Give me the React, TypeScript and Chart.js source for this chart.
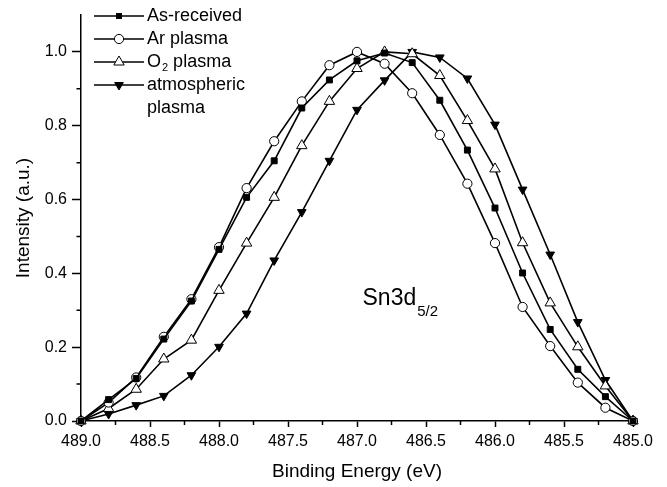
import React, { useEffect, useRef } from 'react';
import { Chart, registerables } from 'chart.js';

Chart.register(...registerables);

const FONT = '"Liberation Sans", Arial, Helvetica, sans-serif';

// Binding energy (eV), 0.2 eV steps from 489.0 down to 485.0
const energies = [489.0, 488.8, 488.6, 488.4, 488.2, 488.0, 487.8, 487.6, 487.4, 487.2, 487.0,
  486.8, 486.6, 486.4, 486.2, 486.0, 485.8, 485.6, 485.4, 485.2, 485.0];

const asReceived = [0, 0.058, 0.115, 0.222, 0.325, 0.465, 0.606, 0.705, 0.848, 0.924, 0.976,
  0.997, 0.971, 0.869, 0.734, 0.577, 0.401, 0.248, 0.140, 0.066, 0];
const arPlasma = [0, 0.050, 0.118, 0.228, 0.330, 0.471, 0.631, 0.758, 0.866, 0.964, 1.0,
  0.968, 0.888, 0.775, 0.643, 0.482, 0.309, 0.203, 0.104, 0.036, 0];
const o2Plasma = [0, 0.034, 0.086, 0.168, 0.219, 0.354, 0.482, 0.606, 0.746, 0.866, 0.955,
  1.0, 0.995, 0.936, 0.814, 0.683, 0.483, 0.320, 0.201, 0.095, 0];
const atmPlasma = [0, 0.019, 0.043, 0.068, 0.124, 0.201, 0.291, 0.435, 0.566, 0.705, 0.843,
  0.923, 1.0, 0.985, 0.928, 0.803, 0.627, 0.451, 0.268, 0.111, 0];

const seriesNames = ['As-received', 'Ar plasma', 'O2 plasma', 'atmospheric plasma'];
const seriesValues = [asReceived, arPlasma, o2Plasma, atmPlasma];

const xMajorStep = 0.5;
const yMajorStep = 0.2;
const xMinorTicks = [488.75, 488.25, 487.75, 487.25, 486.75, 486.25, 485.75, 485.25];
const yMinorTicks = [0.1, 0.3, 0.5, 0.7, 0.9];
const annotationMain = 'Sn3d';
const annotationSub = '5/2';
const annotationAt = { x: 486.96, y: 0.332 };

type MarkerKind = 'square' | 'circle' | 'triangle' | 'invTriangle';
const markerKinds: MarkerKind[] = ['square', 'circle', 'triangle', 'invTriangle'];
const markerRadius = [4.2, 4.6, 6, 5];

function drawMarker(ctx: CanvasRenderingContext2D, kind: MarkerKind, x: number, y: number, r: number) {
  ctx.save();
  ctx.lineWidth = 1;
  ctx.strokeStyle = '#000';
  ctx.beginPath();
  if (kind === 'square') {
    const s = r * Math.SQRT1_2;
    ctx.rect(x - s, y - s, 2 * s, 2 * s);
    ctx.fillStyle = '#000';
    ctx.fill();
  } else if (kind === 'circle') {
    ctx.arc(x, y, r, 0, Math.PI * 2);
    ctx.fillStyle = '#fff';
    ctx.fill();
    ctx.stroke();
  } else {
    let rad = kind === 'triangle' ? 0 : Math.PI;
    ctx.moveTo(x + Math.sin(rad) * r, y - Math.cos(rad) * r);
    rad += (2 * Math.PI) / 3;
    ctx.lineTo(x + Math.sin(rad) * r, y - Math.cos(rad) * r);
    rad += (2 * Math.PI) / 3;
    ctx.lineTo(x + Math.sin(rad) * r, y - Math.cos(rad) * r);
    ctx.closePath();
    ctx.fillStyle = kind === 'triangle' ? '#fff' : '#000';
    ctx.fill();
    ctx.stroke();
  }
  ctx.restore();
}

const decorPlugin = {
  id: 'decor',
  afterDraw(chart: any) {
    const ctx: CanvasRenderingContext2D = chart.ctx;
    const xs = chart.scales.x;
    const ys = chart.scales.y;
    const area = chart.chartArea;
    ctx.save();
    // minor ticks
    ctx.strokeStyle = '#000';
    ctx.lineWidth = 1.5;
    ctx.beginPath();
    for (const v of yMinorTicks) {
      const py = ys.getPixelForValue(v);
      ctx.moveTo(area.left, py);
      ctx.lineTo(area.left - 4.5, py);
    }
    for (const v of xMinorTicks) {
      const px = xs.getPixelForValue(v);
      ctx.moveTo(px, area.bottom);
      ctx.lineTo(px, area.bottom + 4);
    }
    ctx.stroke();

    // legend
    const lx0 = 94, lx1 = 144, mx = 119, tx = 147;
    const rows = [16, 39, 62, 85];
    ctx.fillStyle = '#000';
    ctx.textBaseline = 'middle';
    ctx.textAlign = 'left';
    for (let i = 0; i < seriesNames.length; i++) {
      const y = rows[i];
      ctx.beginPath();
      ctx.lineWidth = 1.5;
      ctx.moveTo(lx0, y);
      ctx.lineTo(lx1, y);
      ctx.stroke();
      drawMarker(ctx, markerKinds[i], mx, y, markerRadius[i]);
      ctx.fillStyle = '#000';
      ctx.font = `18px ${FONT}`;
      const name = seriesNames[i];
      if (name === 'O2 plasma') {
        ctx.fillText('O', tx, y);
        const w = ctx.measureText('O').width;
        ctx.font = `11px ${FONT}`;
        ctx.fillText('2', tx + w + 1, y + 6);
        const w2 = ctx.measureText('2').width;
        ctx.font = `18px ${FONT}`;
        ctx.fillText(' plasma', tx + w + w2 + 1, y);
      } else if (name === 'atmospheric plasma') {
        ctx.fillText('atmospheric', tx, y);
        ctx.fillText('plasma', tx, y + 23);
      } else {
        ctx.fillText(name, tx, y);
      }
    }

    // annotation
    const ax = xs.getPixelForValue(annotationAt.x);
    const ay = ys.getPixelForValue(annotationAt.y);
    ctx.font = `23px ${FONT}`;
    ctx.fillText(annotationMain, ax, ay);
    const aw = ctx.measureText(annotationMain).width;
    ctx.font = `15px ${FONT}`;
    ctx.fillText(annotationSub, ax + aw + 1, ay + 13);
    ctx.restore();
  },
};

export default function App() {
  const ref = useRef<HTMLCanvasElement | null>(null);

  useEffect(() => {
    if (!ref.current) return;
    const pointStyles = ['rect', 'circle', 'triangle', 'triangle'];
    const fills = ['#000', '#fff', '#fff', '#000'];
    const rotations = [0, 0, 0, 180];
    const datasets = seriesValues.map((vals, i) => ({
      label: seriesNames[i],
      data: energies.map((e, j) => ({ x: e, y: vals[j] })),
      borderColor: '#000',
      borderWidth: 1.6,
      backgroundColor: fills[i],
      pointStyle: pointStyles[i] as any,
      pointRotation: rotations[i],
      pointRadius: markerRadius[i],
      pointBackgroundColor: fills[i],
      pointBorderColor: '#000',
      pointBorderWidth: 1,
      tension: 0,
      fill: false,
      clip: false as any,
    }));

    const tickFont = { family: FONT, size: 16 };
    const chart = new Chart(ref.current, {
      type: 'line',
      data: { datasets },
      plugins: [decorPlugin],
      options: {
        animation: false,
        responsive: false,
        devicePixelRatio: 1,
        layout: { padding: { left: 0, top: 15, right: 34, bottom: 0 } },
        plugins: { legend: { display: false }, tooltip: { enabled: false } },
        scales: {
          x: {
            type: 'linear',
            reverse: true,
            min: 485,
            max: 489,
            ticks: {
              stepSize: xMajorStep,
              color: '#000',
              font: tickFont,
              padding: 5,
              maxRotation: 0,
              autoSkip: false,
              callback: (v: any) => Number(v).toFixed(1),
            },
            grid: { drawOnChartArea: false, drawTicks: true, tickLength: 6, tickColor: '#000', tickWidth: 1.5 },
            border: { display: true, color: '#000', width: 1.5 },
            title: {
              display: true,
              text: 'Binding Energy (eV)',
              color: '#000',
              font: { family: FONT, size: 19 },
              padding: { top: 0, bottom: 4 },
            },
            afterFit: (s: any) => { s.height = 66; },
          },
          y: {
            type: 'linear',
            min: 0,
            max: 1.1,
            ticks: {
              stepSize: yMajorStep,
              color: '#000',
              font: tickFont,
              padding: 5,
              callback: (v: any) => Number(v).toFixed(1),
            },
            afterBuildTicks: (s: any) => { s.ticks = s.ticks.filter((t: any) => t.value <= 1.0001); },
            grid: { drawOnChartArea: false, drawTicks: true, tickLength: 9, tickColor: '#000', tickWidth: 1.5 },
            border: { display: true, color: '#000', width: 1.5 },
            title: {
              display: true,
              text: 'Intensity (a.u.)',
              color: '#000',
              font: { family: FONT, size: 19 },
              padding: { top: 12, bottom: 0 },
            },
            afterFit: (s: any) => { s.width = 81; },
          },
        },
      } as any,
    });
    return () => chart.destroy();
  }, []);

  return (
    <div style={{ position: 'fixed', left: 0, top: 0, width: 667, height: 487, background: '#fff' }}>
      <canvas ref={ref} width={667} height={487} style={{ width: 667, height: 487 }} />
    </div>
  );
}
